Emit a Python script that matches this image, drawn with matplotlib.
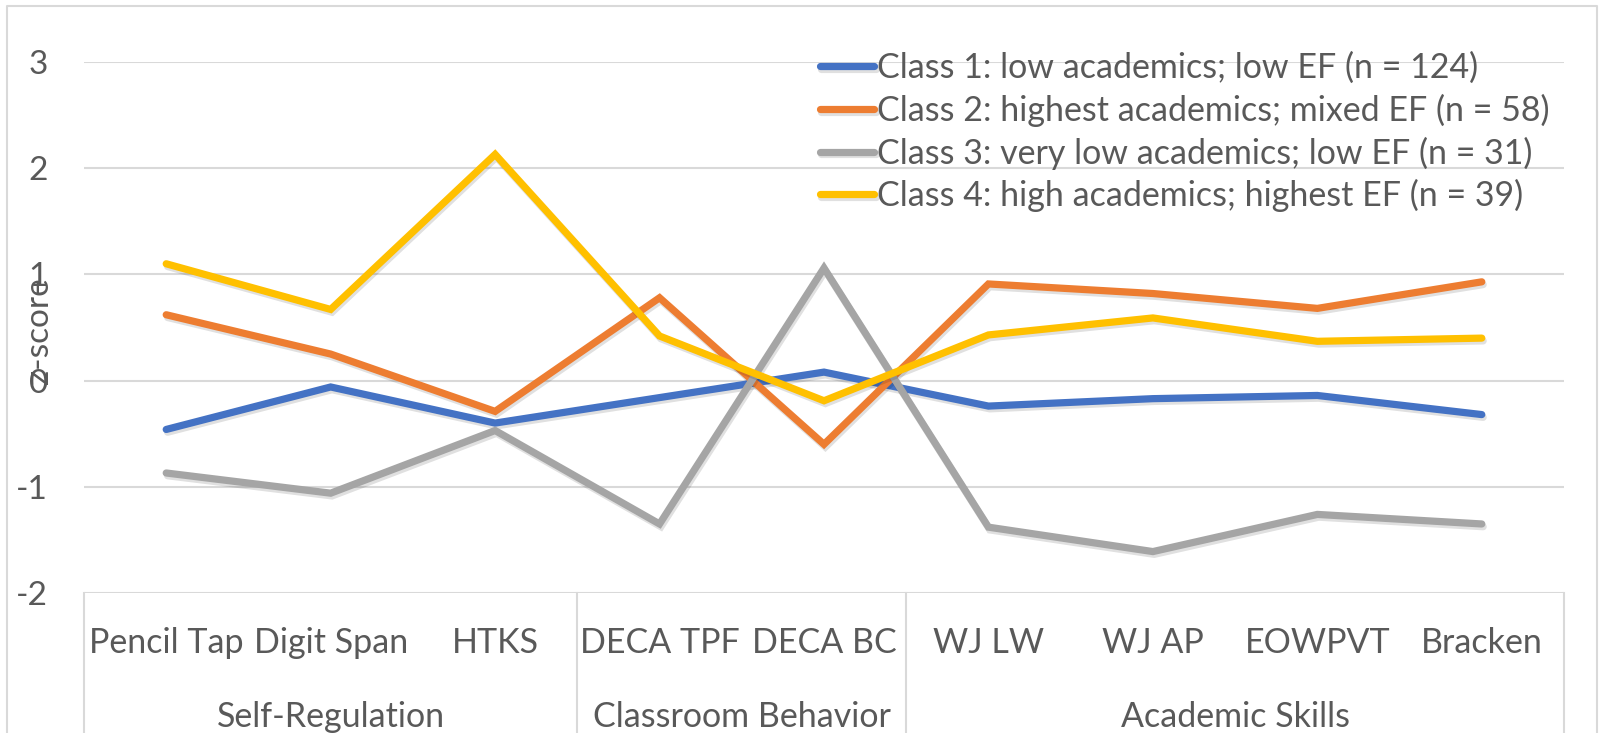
import matplotlib
matplotlib.use('Agg')
import matplotlib.pyplot as plt
import matplotlib.patheffects as pe
from matplotlib.transforms import blended_transform_factory
from matplotlib.lines import Line2D

plt.rcParams['font.family'] = ['Lato', 'DejaVu Sans']
plt.rcParams['axes.unicode_minus'] = False

# Daten
measures = ['Pencil Tap', 'Digit Span', 'HTKS', 'DECA TPF', 'DECA BC',
            'WJ LW', 'WJ AP', 'EOWPVT', 'Bracken']
groups = ['Self-Regulation', 'Classroom Behavior', 'Academic Skills']
group_sizes = [3, 2, 4]

labels = ['Class 1: low academics; low EF (n = 124)',
          'Class 2: highest academics; mixed EF (n = 58)',
          'Class 3: very low academics; low EF (n = 31)',
          'Class 4: high academics; highest EF (n = 39)']
class1 = [-0.46, -0.06, -0.40, -0.16, 0.08, -0.24, -0.17, -0.14, -0.32]
class2 = [0.62, 0.25, -0.29, 0.78, -0.60, 0.91, 0.82, 0.68, 0.93]
class3 = [-0.87, -1.06, -0.47, -1.35, 1.06, -1.38, -1.61, -1.26, -1.35]
class4 = [1.10, 0.67, 2.13, 0.42, -0.19, 0.43, 0.59, 0.37, 0.40]
colors = ['#4472C4', '#ED7D31', '#A5A5A5', '#FFC000']

txt = '#595959'
grid = '#D9D9D9'
W, H = 1602, 733

fig = plt.figure(figsize=(W / 100, H / 100), dpi=100)
ax = fig.add_axes([84 / W, 1 - 593 / H, (1564 - 84) / W, (593 - 62) / H])

x = [i + 0.5 for i in range(len(measures))]
shadow = [pe.SimpleLineShadow(offset=(1, -2), shadow_color='black', alpha=0.12),
          pe.Normal()]
for vals, c, lab in zip([class1, class2, class3, class4], colors, labels):
    ax.plot(x, vals, color=c, lw=5.2, label=lab, solid_capstyle='round',
            solid_joinstyle='miter', path_effects=shadow)

ax.set_xlim(0, len(measures))
ax.set_ylim(-2, 3)
ax.set_yticks(range(-2, 4))
ax.yaxis.grid(True, color=grid, lw=1.5)
ax.set_axisbelow(True)
for s in ax.spines.values():
    s.set_visible(False)
ax.tick_params(axis='y', length=0, pad=26, labelsize=24, labelcolor=txt)
ax.set_xticks([])

# Kategorienachse mit zwei Ebenen
tr = blended_transform_factory(ax.transData, fig.transFigure)
for xi, m in zip(x, measures):
    ax.text(xi, 1 - 653 / H, m, transform=tr, ha='center', va='baseline',
            fontsize=24.5, color=txt)
start = 0
bounds = [0]
for g, n in zip(groups, group_sizes):
    ax.text(start + n / 2, 1 - 727 / H, g, transform=tr, ha='center',
            va='baseline', fontsize=24.5, color=txt)
    start += n
    bounds.append(start)
for b in bounds:
    ax.plot([b, b], [1 - 593 / H, 0], transform=tr, color=grid, lw=1.5,
            clip_on=False)

fig.text(39 / W, 1 - 331 / H, 'z-score', rotation=90, ha='center', va='center',
         fontsize=24, color=txt)

leg = ax.legend(loc='upper left', bbox_to_anchor=(820 / W, 1 - 52 / H),
                bbox_transform=fig.transFigure, frameon=False, fontsize=24.5,
                handlelength=1.6, handletextpad=0.08, labelspacing=0.28,
                borderpad=0, borderaxespad=0)
for t in leg.get_texts():
    t.set_color(txt)

# Rahmen des Diagramms
fig.add_artist(Line2D([7 / W, 7 / W, 1597 / W, 1597 / W], [0, 1 - 6 / H, 1 - 6 / H, 0],
                      transform=fig.transFigure, color=grid, lw=1.5))

fig.savefig('out.png', dpi=100)
